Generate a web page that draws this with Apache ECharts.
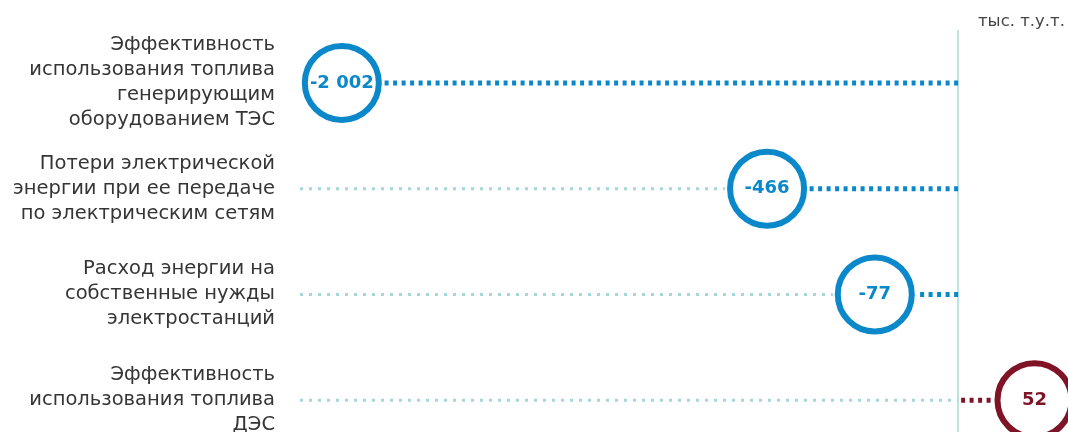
<!DOCTYPE html>
<html>
<head>
<meta charset="utf-8">
<script src="https://cdn.jsdelivr.net/npm/echarts@6/dist/echarts.min.js"></script>
<style>
html, body { margin: 0; padding: 0; background: #fff; }
#chart { width: 1068px; height: 432px; }
</style>
</head>
<body>
<div id="chart"></div>
<script>
var categories = [
	'Эффективность\nиспользования топлива\nгенерирующим\nоборудованием ТЭС',
	'Потери электрической\nэнергии при ее передаче\nпо электрическим сетям',
	'Расход энергии на\nсобственные нужды\nэлектростанций',
	'Эффективность\nиспользования топлива\nДЭС'
];
var values = [-2002, -466, -77, 52];
var unitLabel = 'тыс. т.у.т.';

var BLUE = '#0a88c9';
var RED = '#7f1426';
var FAINT = '#a6d8d8';
var GAP = 20;      // stem beyond the value point, px
var RADIUS = 37;
var FONT = 'DejaVu Sans';

function fmt(v) {
	var s = String(Math.abs(v)).replace(/\B(?=(\d{3})+(?!\d))/g, ' ');
	return (v < 0 ? '-' : '') + s;
}

var chart = echarts.init(document.getElementById('chart'));

var option = {
	animation: false,
	title: {
		text: unitLabel,
		left: 973,
		top: 8,
		textStyle: { fontFamily: FONT, fontSize: 16.5, fontWeight: 'normal', color: '#444' }
	},
	grid: { left: 349, width: 706, top: 30, height: 423, outerBoundsMode: 'none', containLabel: false },
	xAxis: {
		type: 'value', min: -2200, max: 350,
		show: false
	},
	yAxis: {
		type: 'category',
		data: categories,
		inverse: true,
		axisLine: { show: false },
		axisTick: { show: false },
		splitLine: { show: false },
		axisLabel: {
			margin: 74,
			align: 'right',
			fontFamily: FONT,
			fontSize: 19.5,
			lineHeight: 25,
			color: '#353535'
		}
	},
	series: [{
		type: 'custom',
		data: values.map(function (v, i) { return [v, i]; }),
		renderItem: function (params, api) {
			var v = api.value(0);
			var idx = api.value(1);
			var color = v < 0 ? BLUE : RED;
			var dir = v < 0 ? -1 : 1;
			var p0 = api.coord([0, idx]);
			var pv = api.coord([v, idx]);
			var y = p0[1];
			var stemEnd = pv[0] + dir * GAP;
			var cx = stemEnd + dir * (RADIUS + 5);
			var faintStart = params.coordSys.x - 49;
			var faintEnd = v < 0 ? cx - RADIUS - 5 : p0[0];
			var children = [];
			if (faintEnd > faintStart) {
				children.push({
					type: 'line',
					shape: { x1: faintStart, y1: y, x2: faintEnd, y2: y },
					style: { stroke: FAINT, lineWidth: 3, lineDash: [3, 6] }
				});
			}
			children.push({
				type: 'line',
				shape: { x1: p0[0] + (v < 0 ? 0 : 3), y1: y, x2: stemEnd, y2: y },
				style: { stroke: color, lineWidth: 5, lineDash: [4, 4.5] }
			});
			children.push({
				type: 'circle',
				shape: { cx: cx, cy: y, r: RADIUS },
				style: { fill: '#fff', stroke: color, lineWidth: 6 }
			});
			children.push({
				type: 'text',
				x: cx, y: y,
				style: {
					text: fmt(v),
					fill: color,
					fontFamily: FONT,
					fontWeight: 'bold',
					fontSize: 18,
					align: 'center',
					verticalAlign: 'middle'
				}
			});
			return { type: 'group', children: children };
		},
		markLine: {
			silent: true,
			symbol: 'none',
			label: { show: false },
			lineStyle: { color: '#a8dada', width: 1.5, type: 'solid' },
			data: [{ xAxis: 0 }],
			z: 1
		}
	}]
};

chart.setOption(option);
</script>
</body>
</html>
